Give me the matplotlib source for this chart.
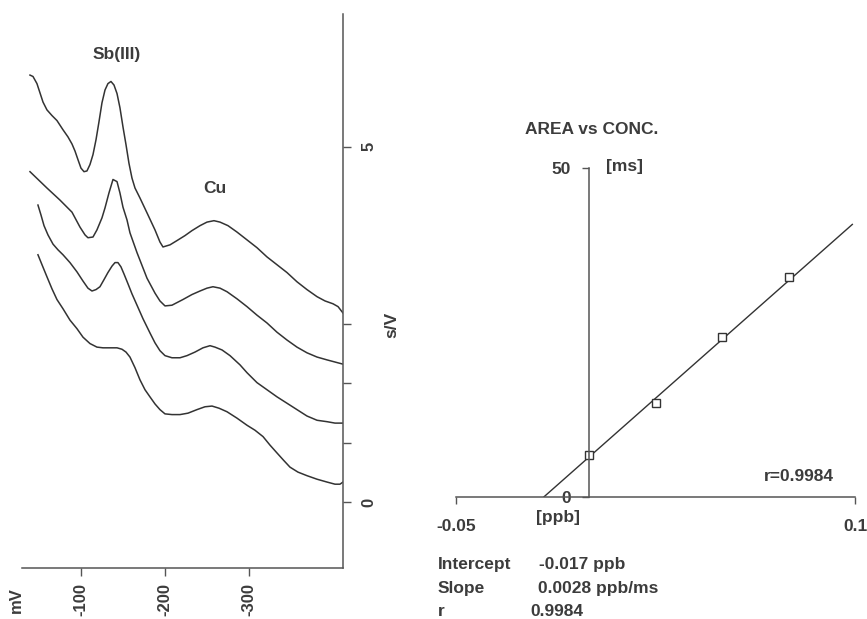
import matplotlib
matplotlib.use("Agg")
import matplotlib.pyplot as plt

plt.rcParams['font.family'] = ['Liberation Sans', 'DejaVu Sans']
plt.rcParams['axes.unicode_minus'] = False

# stripping voltammograms: potential (mV) vs signal (s/V)
c1_mv = [-39.3, -42.9, -47.6, -51.2, -54.8, -59.5, -65.5, -71.4, -78.6, -84.5, -89.3, -92.9,
         -96.4, -100.0, -103.6, -107.1, -110.7, -114.3, -117.9, -121.4, -125.0, -128.6,
         -132.1, -135.7, -139.3, -142.9, -146.4, -150.0, -153.6, -157.1, -160.7, -164.3,
         -170.2, -178.6, -188.1, -194.0, -197.6, -206.0, -214.3, -223.8, -232.1, -241.7,
         -250.0, -258.3, -265.5, -275.0, -285.7, -297.6, -309.5, -321.4, -333.3, -345.2,
         -357.1, -369.0, -381.0, -390.5, -400.0, -406.0, -411.9]
c1_sv = [6.01, 5.99, 5.89, 5.76, 5.63, 5.52, 5.44, 5.37, 5.24, 5.14, 5.04, 4.94,
         4.82, 4.70, 4.65, 4.66, 4.75, 4.89, 5.10, 5.35, 5.62, 5.80,
         5.89, 5.92, 5.87, 5.75, 5.55, 5.28, 5.03, 4.77, 4.56, 4.42,
         4.28, 4.07, 3.83, 3.66, 3.59, 3.62, 3.68, 3.75, 3.82, 3.89,
         3.94, 3.96, 3.94, 3.89, 3.80, 3.69, 3.58, 3.45, 3.34, 3.23,
         3.10, 2.99, 2.89, 2.83, 2.79, 2.75, 2.66]

c2_mv = [-39.3, -59.5, -75.0, -89.3, -98.8, -104.8, -108.3, -114.3, -119.0, -125.0, -128.6,
         -133.3, -138.1, -142.9, -146.4, -150.0, -154.8, -158.3, -166.7, -178.6, -188.1,
         -194.0, -200.0, -208.3, -221.4, -232.1, -241.7, -250.0, -257.1, -265.5, -273.8,
         -285.7, -297.6, -309.5, -321.4, -333.3, -345.2, -357.1, -369.0, -381.0, -392.9,
         -402.4, -411.9]
c2_sv = [4.65, 4.42, 4.25, 4.08, 3.87, 3.76, 3.72, 3.73, 3.83, 4.00, 4.14,
         4.35, 4.54, 4.51, 4.35, 4.15, 3.97, 3.79, 3.51, 3.15, 2.94,
         2.83, 2.76, 2.77, 2.85, 2.92, 2.97, 3.01, 3.03, 3.01, 2.96,
         2.86, 2.75, 2.63, 2.52, 2.39, 2.28, 2.18, 2.10, 2.04, 2.00,
         1.97, 1.94]

c3_mv = [-48.8, -52.4, -56.0, -60.7, -66.7, -72.6, -78.6, -86.9, -95.2, -102.4, -108.3,
         -113.1, -117.9, -122.6, -127.4, -132.1, -136.9, -140.5, -144.0, -147.6, -151.2,
         -156.0, -160.7, -166.7, -173.8, -182.1, -188.1, -194.0, -200.0, -208.3, -217.9,
         -226.2, -235.7, -245.2, -253.6, -259.5, -267.9, -277.4, -289.3, -297.6, -309.5,
         -321.4, -333.3, -345.2, -357.1, -369.0, -381.0, -392.9, -402.4, -411.9]
c3_sv = [4.18, 4.04, 3.89, 3.76, 3.63, 3.55, 3.48, 3.37, 3.24, 3.11, 3.01,
         2.97, 2.99, 3.03, 3.13, 3.23, 3.32, 3.37, 3.37, 3.31, 3.21,
         3.07, 2.93, 2.77, 2.58, 2.38, 2.24, 2.13, 2.06, 2.03, 2.03,
         2.06, 2.11, 2.17, 2.20, 2.18, 2.14, 2.06, 1.93, 1.82, 1.68,
         1.58, 1.48, 1.39, 1.30, 1.21, 1.15, 1.13, 1.11, 1.11]

c4_mv = [-48.8, -53.6, -59.5, -65.5, -71.4, -78.6, -86.9, -95.2, -102.4, -110.7, -119.0,
         -126.2, -134.5, -142.9, -148.8, -153.6, -158.3, -164.3, -170.2, -176.2, -182.1,
         -188.1, -194.0, -200.0, -208.3, -217.9, -227.4, -238.1, -247.6, -256.0, -264.3,
         -273.8, -285.7, -297.6, -307.1, -316.7, -325.0, -333.3, -341.7, -348.8, -358.3,
         -369.0, -381.0, -392.9, -402.4, -408.3, -411.9]
c4_sv = [3.48, 3.34, 3.17, 3.00, 2.85, 2.72, 2.56, 2.44, 2.32, 2.23, 2.18,
         2.17, 2.17, 2.17, 2.15, 2.11, 2.04, 1.89, 1.72, 1.58, 1.48,
         1.38, 1.30, 1.24, 1.23, 1.23, 1.25, 1.30, 1.34, 1.35, 1.32,
         1.27, 1.18, 1.08, 1.01, 0.92, 0.80, 0.69, 0.58, 0.49, 0.42,
         0.37, 0.32, 0.28, 0.25, 0.25, 0.28]

mv_ticks = [-100, -200, -300]
sv_ticks = [0, 0.83, 1.67, 2.5, 5]
sv_labels = ['0', '', '', '', '5']

# standard additions: concentration (ppb) vs peak area (ms)
conc = [0.0, 0.025, 0.05, 0.075]
area = [6.4, 14.3, 24.3, 33.4]
intercept = -0.017   # ppb
slope = 0.0028       # ppb/ms
r_value = 0.9984
fit_end = 0.099

ink = '#333333'
txt = '#3c3c3c'
axc = '#555555'
W, H = 867, 619

fig = plt.figure(figsize=(8.67, 6.19), dpi=100)

# ---- left panel: voltammograms
ax1 = fig.add_axes([22 / W, 51 / H, 321 / W, 554 / H])
for xs, ys in [(c1_mv, c1_sv), (c2_mv, c2_sv), (c3_mv, c3_sv), (c4_mv, c4_sv)]:
    ax1.plot(xs, ys, color=ink, lw=1.1, solid_joinstyle='round')
ax1.set_xlim(-29.8, -411.9)
ax1.set_ylim(-0.93, 6.87)
for s in ['top', 'left']:
    ax1.spines[s].set_visible(False)
for s in ['bottom', 'right']:
    ax1.spines[s].set_color(axc)
    ax1.spines[s].set_linewidth(1.1)
ax1.yaxis.tick_right()
ax1.set_yticks(sv_ticks)
ax1.set_yticklabels(sv_labels, rotation=90, va='center', fontsize=12,
                    fontweight='bold', color=txt)
ax1.set_xticks(mv_ticks)
ax1.set_xticklabels([str(v) for v in mv_ticks], rotation=90, fontsize=12,
                    fontweight='bold', color=txt)
ax1.tick_params(axis='y', length=6, width=1, color=axc, pad=7)
ax1.tick_params(axis='x', length=6, width=1, color=axc, pad=5)
ax1.text(-142.9, 6.30, 'Sb(III)', ha='center', va='center', fontsize=12.5,
         fontweight='bold', color=txt)
ax1.text(-259.5, 4.42, 'Cu', ha='center', va='center', fontsize=12.5,
         fontweight='bold', color=txt)
fig.text(392 / W, 1 - 325 / H, 's/V', rotation=90, ha='center', va='center',
         fontsize=12.5, fontweight='bold', color=txt)
fig.text(16 / W, 1 - 600 / H, 'mV', rotation=90, ha='center', va='center',
         fontsize=12, fontweight='bold', color=txt)

# ---- right panel: calibration
ax2 = fig.add_axes([456 / W, 122 / H, 399 / W, 329 / H])
fx = [intercept, fit_end]
fy = [(x - intercept) / slope for x in fx]
ax2.plot(fx, fy, color=ink, lw=1.0)
ax2.plot(conc, area, ls='none', marker='s', ms=6, mfc='white', mec=ink, mew=1.0)
ax2.set_xlim(-0.05, 0.1)
ax2.set_ylim(0, 50)
for s in ['top', 'right']:
    ax2.spines[s].set_visible(False)
ax2.spines['left'].set_position(('data', 0))
for s in ['bottom', 'left']:
    ax2.spines[s].set_color(axc)
    ax2.spines[s].set_linewidth(1.1)
ax2.set_xticks([-0.05, 0.1])
ax2.set_xticklabels(['-0.05', '0.1'], fontsize=12.5, fontweight='bold', color=txt)
ax2.set_yticks([0, 50])
ax2.set_yticklabels(['0', '50'], fontsize=12.5, fontweight='bold', color=txt)
ax2.tick_params(axis='x', length=5, width=1, color=axc, pad=11)
ax2.tick_params(axis='y', length=5, width=1, color=axc, pad=8)
ax2.text(0.0135, 50.3, '[ms]', ha='center', va='center', fontsize=12.5,
         fontweight='bold', color=txt)
ax2.text(-0.0117, -3.1, '[ppb]', ha='center', va='center', fontsize=12.5,
         fontweight='bold', color=txt, clip_on=False)
ax2.text(0.079, 3.04, 'r=%.4f' % r_value, ha='center', va='center', fontsize=12.5,
         fontweight='bold', color=txt)
ax2.text(0.0011, 55.9, 'AREA vs CONC.', ha='center', va='center', fontsize=12.5,
         fontweight='bold', color=txt, clip_on=False)

# ---- regression summary
rows = [('Intercept', '%.3f ppb' % intercept, 564, 539),
        ('Slope', '%.4f ppb/ms' % slope, 588, 538),
        ('r', '%.4f' % r_value, 611, 530)]
for name, val, y, xv in rows:
    fig.text(438 / W, 1 - y / H, name, ha='left', va='center', fontsize=12.5,
             fontweight='bold', color=txt)
    fig.text(xv / W, 1 - y / H, val, ha='left', va='center', fontsize=12.5,
             fontweight='bold', color=txt)

fig.savefig('out.png', dpi=100)
